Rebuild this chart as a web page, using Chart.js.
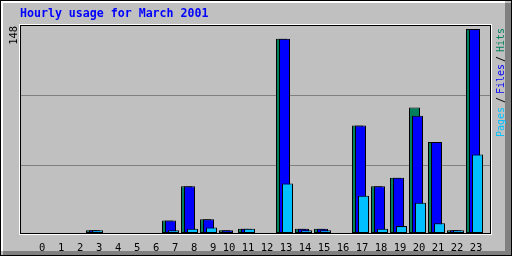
<!DOCTYPE html>
<html><head><meta charset="utf-8">
<style>html,body{margin:0;padding:0;background:#c0c0c0;}#wrap{width:512px;height:256px;}</style>
<script src="https://cdn.jsdelivr.net/npm/chart.js@4/dist/chart.umd.min.js"></script>
</head><body><div id="wrap"><canvas id="c" width="512" height="256"></canvas></div>
<script>
const TITLE = 'Hourly usage for March 2001';
const hours = [0,1,2,3,4,5,6,7,8,9,10,11,12,13,14,15,16,17,18,19,20,21,22,23];
const hits  = [0,0,0,2,0,0,0,9,34,10,2,3,0,141,3,3,0,78,34,40,91,66,2,148];
const files = [0,0,0,2,0,0,0,9,34,10,2,3,0,141,3,3,0,78,34,40,85,66,2,148];
const pages = [0,0,0,2,0,0,0,2,3,4,0,3,0,36,2,2,0,27,3,5,22,7,2,57];
const legendParts = [['Pages','#00c0ff'],['/','#000000'],['Files','#0000ff'],['/','#000000'],['Hits','#00805c']];
const COLORS = {hits:'#00805c', files:'#0000ff', pages:'#00c0ff'};

const MAX = Math.max(...hits, ...files, ...pages);
const Y_MIN = -MAX * 2 / 204, Y_MAX = MAX * 208 / 204;
const X_MIN = -1, X_MAX = 23 + 14 / 19;
const OFF = {hits: -4.5 / 19, files: -1.5 / 19, pages: 1.5 / 19};
const MONO = "'DejaVu Sans Mono', 'Liberation Mono', monospace";

function mk(label, arr, off, color) {
  return {
    label, data: hours.map((h, i) => ({x: h + off, y: arr[i] ? arr[i] : null})),
    backgroundColor: color, borderColor: '#000000', borderWidth: 1, borderSkipped: false,
    inflateAmount: 0, grouped: false, maxBarThickness: 11, barPercentage: 10, categoryPercentage: 1
  };
}

const frame = {
  id: 'frame',
  beforeDraw(chart) {
    const ctx = chart.ctx, W = chart.width, H = chart.height;
    ctx.save();
    ctx.fillStyle = '#c0c0c0'; ctx.fillRect(0, 0, W, H);
    ctx.fillStyle = '#808080';
    ctx.fillRect(W - 7, 3, 6, H - 4);
    ctx.fillRect(3, H - 5, W - 4, 4);
    ctx.fillStyle = '#ffffff';
    ctx.fillRect(1, 1, W - 8, 2);
    ctx.fillRect(1, 1, 2, H - 6);
    ctx.strokeStyle = '#000000'; ctx.lineWidth = 1;
    ctx.strokeRect(0.5, 0.5, W - 1, H - 1);
    ctx.restore();
  },
  beforeDatasetsDraw(chart) {
    const ctx = chart.ctx, a = chart.chartArea;
    ctx.save();
    ctx.strokeStyle = '#ffffff'; ctx.lineWidth = 1;
    ctx.strokeRect(a.left - 0.5, a.top - 0.5, a.right - a.left + 2, a.bottom - a.top);
    ctx.strokeStyle = '#000000';
    ctx.strokeRect(a.left + 0.5, a.top + 0.5, a.right - a.left, a.bottom - a.top - 2);
    ctx.restore();
  },
  afterDraw(chart) {
    const ctx = chart.ctx, a = chart.chartArea;
    ctx.save();
    ctx.font = '10.5px ' + MONO;
    ctx.fillStyle = '#000000';
    ctx.textBaseline = 'middle'; ctx.textAlign = 'left';
    ctx.translate(14.7, 44.8); ctx.rotate(-Math.PI / 2);
    ctx.fillText(String(MAX), 0, 0);
    ctx.restore();
    ctx.save();
    ctx.font = '10px ' + MONO;
    ctx.textBaseline = 'middle'; ctx.textAlign = 'left';
    ctx.translate(a.right + 11, 137); ctx.rotate(-Math.PI / 2);
    const starts = [0, 34, 43, 75, 85];
    legendParts.forEach((p, i) => { ctx.fillStyle = p[1]; ctx.fillText(p[0], starts[i], 0); });
    ctx.restore();
  }
};

new Chart(document.getElementById('c'), {
  type: 'bar',
  data: { datasets: [
    mk('Pages', pages, OFF.pages, COLORS.pages),
    mk('Files', files, OFF.files, COLORS.files),
    mk('Hits', hits, OFF.hits, COLORS.hits)
  ]},
  options: {
    responsive: false, animation: false, devicePixelRatio: 1,
    layout: { padding: { left: 0, right: 22, top: 0, bottom: 0 } },
    plugins: {
      legend: { display: false }, tooltip: { enabled: false },
      title: { display: true, text: TITLE, align: 'start', fullSize: false, color: '#0000ff',
        font: { family: MONO, size: 11.6, weight: 'bold', lineHeight: 1.2 },
        padding: { top: 7.5, bottom: 3.58 } }
    },
    scales: {
      x: { type: 'linear', min: X_MIN, max: X_MAX, offset: false,
        afterBuildTicks: s => { s.ticks = hours.map(h => ({value: h})); },
        afterFit: s => { s.height = 21; },
        grid: { display: false, offset: false }, border: { display: false },
        ticks: { autoSkip: false, maxRotation: 0, minRotation: 0, padding: -1.5, color: '#000000',
          font: { family: MONO, size: 10.5, lineHeight: 1.2 },
          callback: v => String(v).padStart(2, ' ') } },
      y: { type: 'linear', min: Y_MIN, max: Y_MAX,
        afterBuildTicks: s => { const r = s.max - s.min; s.ticks = [1, 2].map(k => ({value: s.min + r * k / 3})); },
        afterFit: s => { s.width = 20; },
        ticks: { display: false }, border: { display: false },
        grid: { color: '#808080', lineWidth: 1, drawTicks: false } }
    }
  },
  plugins: [frame]
});
</script>
</body></html>
